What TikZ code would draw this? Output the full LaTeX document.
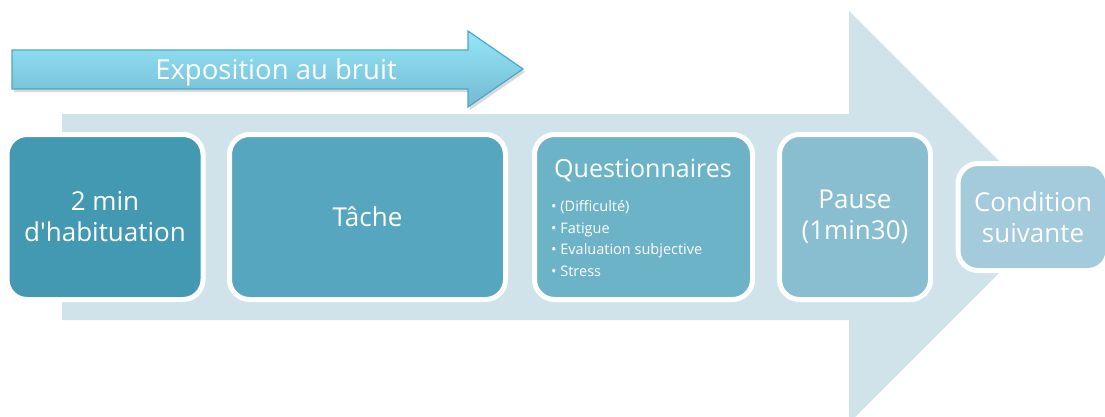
\documentclass[tikz,border=0pt]{standalone}
\usepackage{fontspec}
\setmainfont{Open Sans}[Ligatures=TeXOff]
\usetikzlibrary{shadows}
\definecolor{bgarrow}{HTML}{D1E3EA}
\definecolor{cA}{HTML}{4399B2}
\definecolor{cB}{HTML}{55A6BE}
\definecolor{cC}{HTML}{6DB3C8}
\definecolor{cD}{HTML}{89BDD0}
\definecolor{cE}{HTML}{A3CBDB}
\definecolor{arrtop}{HTML}{96E6F8}
\definecolor{arrbot}{HTML}{72BAD1}
\definecolor{arrline}{HTML}{4BA7C5}
\begin{document}
\begin{tikzpicture}[x=1pt,y=-1pt,
  box/.style={draw=white, line width=5pt, rounded corners=20pt, text=white, align=center,
    font=\fontsize{26}{31}\selectfont, inner sep=0pt},
  small/.style={text=white, font=\fontsize{14.5}{21.7}\selectfont, align=left, inner sep=0pt}]
\useasboundingbox (0,0) rectangle (1105,416);
\clip (0,0) rectangle (1105,416);
% background arrow
\fill[bgarrow] (62,114) -- (849,114) -- (849,11) -- (1055,217) -- (849,423) -- (849,320) -- (62,320) -- cycle;
% top arrow
\shade[top color=arrtop, bottom color=arrbot, draw=arrline, line width=1.2pt,
  drop shadow={shadow xshift=2pt, shadow yshift=-3pt, opacity=0.3}]
  (12,50) -- (468,50) -- (468,31) -- (523,69) -- (468,107) -- (468,89) -- (12,89) -- cycle;
\node[text=white, font=\fontsize{27.5}{30}\selectfont, inner sep=0pt] (expo) at (276,72) {Exposition au bruit};
% boxes
\node[box, fill=cA, minimum width=196pt, minimum height=165pt] (hab) at (105,217) {2 min\\d'habituation};
\node[box, fill=cB, minimum width=276pt, minimum height=165pt] (tache) at (367.5,217) {Tâche};
\node[box, fill=cC, minimum width=218pt, minimum height=165pt] (quest) at (643.5,217) {};
\node[box, fill=cD, minimum width=151pt, minimum height=165pt] (pause) at (855,217) {Pause\\(1min30)};
\node[box, fill=cE, minimum width=150pt, minimum height=107pt] (cond) at (1033,217) {Condition\\suivante};
% questionnaire content
\node[text=white, font=\fontsize{25}{26}\selectfont, inner sep=0pt] (qtitle) at (643,170) {Questionnaires};
\node[small, anchor=north west] (qlist) at (551,200)
  {• (Difficulté)\\• Fatigue\\• Evaluation subjective\\• Stress};
\end{tikzpicture}
\end{document}
